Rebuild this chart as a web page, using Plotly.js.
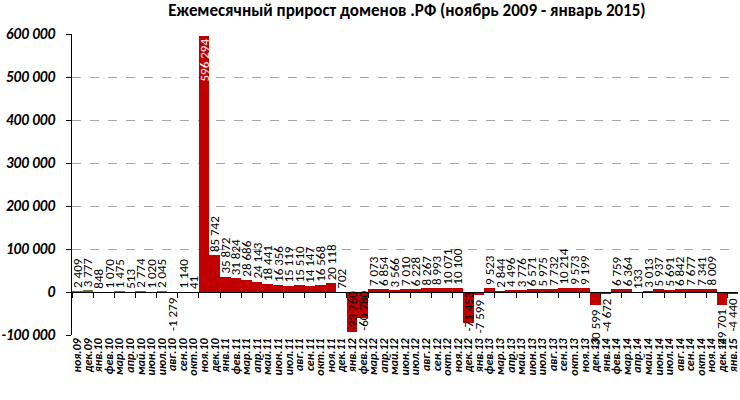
<!DOCTYPE html>
<html>
<head>
<meta charset="utf-8">
<script src="https://cdn.plot.ly/plotly-3.0.1.min.js"></script>
<style>
  html, body { margin: 0; padding: 0; background: #fff; }
  #chart { width: 740px; height: 400px; }
</style>
</head>
<body>
<div id="chart"></div>
<script>
const MONTHS = [
  'ноя.09', 'дек.09',
  'янв.10', 'фев.10', 'мар.10', 'апр.10', 'май.10', 'июн.10', 'июл.10', 'авг.10', 'сен.10', 'окт.10', 'ноя.10', 'дек.10',
  'янв.11', 'фев.11', 'мар.11', 'апр.11', 'май.11', 'июн.11', 'июл.11', 'авг.11', 'сен.11', 'окт.11', 'ноя.11', 'дек.11',
  'янв.12', 'фев.12', 'мар.12', 'апр.12', 'май.12', 'июн.12', 'июл.12', 'авг.12', 'сен.12', 'окт.12', 'ноя.12', 'дек.12',
  'янв.13', 'фев.13', 'мар.13', 'апр.13', 'май.13', 'июн.13', 'июл.13', 'авг.13', 'сен.13', 'окт.13', 'ноя.13', 'дек.13',
  'янв.14', 'фев.14', 'мар.14', 'апр.14', 'май.14', 'июн.14', 'июл.14', 'авг.14', 'сен.14', 'окт.14', 'ноя.14', 'дек.14',
  'янв.15',
];
const GROWTH = [
  2409, 3777,
  848, 1070, 1475, 513, 2774, 1020, 2045, -1279, 1140, 41, 596294, 85742,
  35872, 31824, 28686, 24143, 18441, 16356, 15119, 15510, 14147, 16568, 20118, 702,
  -93760, -60780, 7073, 6854, 3566, 7010, 6228, 8267, 8993, 10071, 10100, -71453,
  -7599, 9523, 2844, 4496, 3776, 6571, 5975, 7732, 10214, 9573, 9199, -30599,
  -4672, 6759, 6364, 133, 3013, 5937, 5691, 6842, 7677, 7341, 8009, -29701,
  -4440,
];
// first months (before the open registration) are drawn green
const EARLY_MONTHS = 9;
const Y_TICKS = [-100000, 0, 100000, 200000, 300000, 400000, 500000, 600000];
const Y_TICKTEXT = ['-100 000', '0', '100 000', '200 000', '300 000', '400 000', '500 000', '600 000'];

const FONT = 'Carlito, Lato, "Open Sans", sans-serif';
const LABEL_SIZE = 13;
const fmt = (v) => (v < 0 ? '-' : '') + String(Math.abs(v)).replace(/\B(?=(\d{3})+(?!\d))/g, ' ');
const maxV = Math.max(...GROWTH);
const yMin = Y_TICKS[0];

// positive values: bar text; the big November 2010 peak is labelled inside in white
const bars = {
  type: 'bar', x: MONTHS, y: GROWTH, xaxis: 'x', yaxis: 'y',
  marker: { color: GROWTH.map((v, i) => (i < EARLY_MONTHS ? '#5b7a2e' : '#c00000')), line: { width: 0 } },
  text: GROWTH.map((v) => (v >= 0 ? fmt(v) : '')),
  textposition: GROWTH.map((v) => (v === maxV ? 'inside' : 'outside')),
  insidetextanchor: 'end',
  textangle: -90,
  constraintext: 'none',
  cliponaxis: false,
  insidetextfont: { family: FONT, size: LABEL_SIZE, color: '#ffffff' },
  outsidetextfont: { family: FONT, size: LABEL_SIZE, color: '#000000' },
  hoverinfo: 'skip',
};
// invisible trace so the zero-line axis with boundary ticks is drawn
const ticksTrace = {
  type: 'scatter', mode: 'markers', x: MONTHS, y: MONTHS.map(() => 0),
  xaxis: 'x2', yaxis: 'y', marker: { opacity: 0 }, hoverinfo: 'skip', showlegend: false,
};

// negative values: label under the bar, pushed back up to the plot bottom when it would not fit
const negLabels = [];
GROWTH.forEach((v, i) => {
  if (v >= 0) return;
  const deep = v < -50000;
  negLabels.push({
    x: MONTHS[i], y: deep ? yMin : v, xref: 'x', yref: 'y',
    text: fmt(v), showarrow: false, textangle: -90,
    xanchor: 'center', yanchor: deep ? 'bottom' : 'top', yshift: deep ? 2 : -2,
    font: { family: FONT, size: LABEL_SIZE, color: '#000' },
  });
});

const layout = {
  width: 740, height: 400,
  margin: { l: 72, r: 2, t: 34, b: 65 },
  paper_bgcolor: '#fff', plot_bgcolor: '#fff',
  showlegend: false,
  bargap: 0,
  font: { family: FONT, color: '#000' },
  title: {
    text: 'Ежемесячный прирост доменов .РФ (ноябрь 2009 - январь 2015)',
    font: { family: FONT, size: 17, weight: 'bold', color: '#000' },
    x: 0.55, xanchor: 'center', y: 0.99, yanchor: 'top',
  },
  annotations: negLabels,
  xaxis: {
    type: 'category', range: [-0.5, MONTHS.length - 0.5],
    tickmode: 'linear', tick0: 0, dtick: 1,
    showline: false, showgrid: false, ticks: '', zeroline: false,
    tickangle: -90,
    tickfont: { family: FONT, size: 12, weight: 'bold', style: 'italic', color: '#000' },
  },
  xaxis2: {
    type: 'category', overlaying: 'x', anchor: 'free', position: 1 / 7,
    range: [-0.5, MONTHS.length - 0.5],
    showticklabels: false, showgrid: false, zeroline: false,
    showline: true, linecolor: '#000', linewidth: 1,
    ticks: 'outside', tickson: 'boundaries', ticklen: 5, tickcolor: '#000', tickwidth: 1,
  },
  yaxis: {
    range: [yMin, Y_TICKS[Y_TICKS.length - 1]],
    tickvals: Y_TICKS, ticktext: Y_TICKTEXT,
    showgrid: true, gridcolor: '#a6a6a6', griddash: 'dash', gridwidth: 1,
    zeroline: false,
    showline: true, linecolor: '#000', linewidth: 1,
    ticks: 'outside', ticklen: 5, tickcolor: '#000',
    ticklabelstandoff: 8,
    tickfont: { family: FONT, size: 15, weight: 'bold', style: 'italic', color: '#000' },
  },
};

Plotly.newPlot('chart', [bars, ticksTrace], layout, { staticPlot: true, displayModeBar: false });
</script>
</body>
</html>
